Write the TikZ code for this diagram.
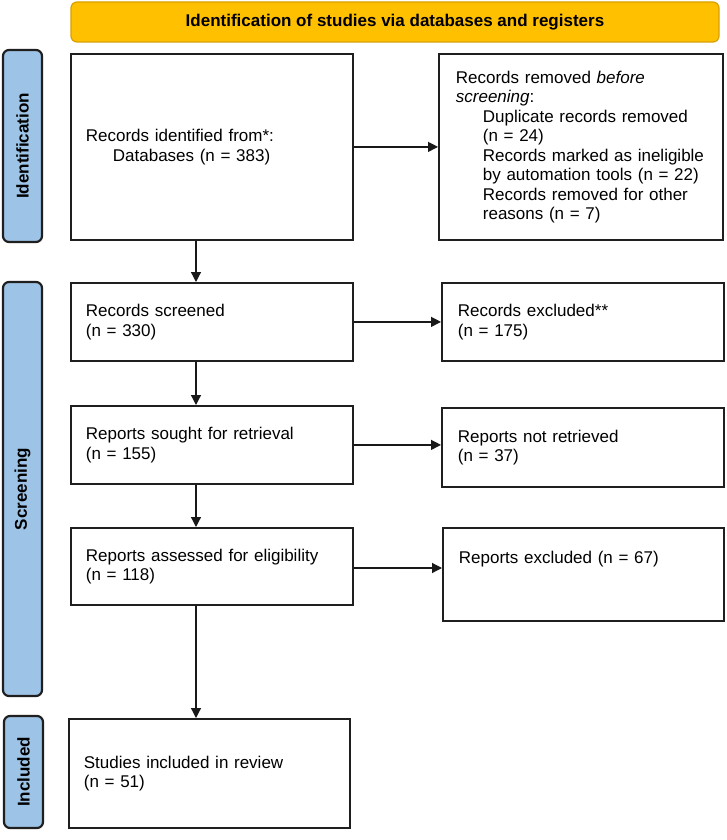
\documentclass[tikz,border=0pt]{standalone}
\usepackage{fontspec}
\setmainfont{Liberation Sans}
\usetikzlibrary{arrows.meta}
\definecolor{gold}{HTML}{FFC000}
\definecolor{goldline}{HTML}{D9A100}
\definecolor{phase}{HTML}{9DC3E6}
\begin{document}
\begin{tikzpicture}[x=1pt,y=-1pt,
  box/.style={draw=black!88, line width=1.8pt, rectangle, inner xsep=15pt, inner ysep=0pt,
    align=left, font=\fontsize{17}{19.5}\selectfont, anchor=north west},
  phasebox/.style={draw=black!88, fill=phase, line width=2.2pt, rounded corners=6pt,
    rotate=90, minimum height=39pt, inner sep=0pt, font=\bfseries\fontsize{17}{19.5}\selectfont},
  arr/.style={-{Triangle[length=10pt,width=10pt]}, line width=1.2pt, draw=black!90}]
\useasboundingbox (0,0) rectangle (726,840);
\fill[white] (0,0) rectangle (726,840);
% title
\node[draw=goldline, fill=gold, line width=1.2pt, rounded corners=6pt, minimum width=648pt,
  minimum height=40pt, inner sep=0pt, font=\bfseries\fontsize{17}{19.5}\selectfont] (title) at (395,22)
  {Identification of studies via databases and registers};
% phase labels
\node[phasebox, minimum width=192pt] (pid) at (22.5,146) {Identification};
\node[phasebox, minimum width=414pt] (pscr) at (22.5,489) {Screening};
\node[phasebox, minimum width=112pt] (pinc) at (23.5,772) {Included};
% left column
\node[box, minimum width=282pt, minimum height=186pt, text width=252pt] (id) at (70,53)
  {Records identified from*:\\\hspace*{27pt}Databases (n = 383)};
\node[box, minimum width=282pt, minimum height=78pt, text width=252pt] (scr) at (70,282)
  {Records screened\\(n = 330)};
\node[box, minimum width=282pt, minimum height=78pt, text width=252pt] (sought) at (70,405)
  {Reports sought for retrieval\\(n = 155)};
\node[box, minimum width=282pt, minimum height=77pt, text width=252pt] (assess) at (70,527)
  {Reports assessed for eligibility\\(n = 118)};
\node[box, minimum width=281pt, minimum height=109pt, text width=251pt] (incl) at (68,718)
  {Studies included in review\\(n = 51)};
% right column
\node[box, minimum width=284pt, minimum height=186pt, text width=250pt, inner xsep=17pt] (rem) at (438,53)
  {Records removed \emph{before}\\\emph{screening}:\\
   \hspace*{27pt}Duplicate records removed\\
   \hspace*{27pt}(n = 24)\\
   \hspace*{27pt}Records marked as ineligible\\
   \hspace*{27pt}by automation tools (n = 22)\\
   \hspace*{27pt}Records removed for other\\
   \hspace*{27pt}reasons (n = 7)};
\node[box, minimum width=282pt, minimum height=78pt, text width=250pt, inner xsep=16pt] (exc) at (441,282)
  {Records excluded**\\(n = 175)};
\node[box, minimum width=282pt, minimum height=79pt, text width=250pt, inner xsep=16pt] (notret) at (441,407)
  {Reports not retrieved\\(n = 37)};
\node[box, minimum width=281pt, minimum height=93pt, text width=249pt, inner xsep=16pt] (excl) at (442,527)
  {Reports excluded (n = 67)\\[14pt]\mbox{}};
% connectors
\coordinate (col) at (196,0);
\coordinate (r4) at (0,568);
\draw[arr] (id.east) -- (id.east -| rem.west);
\draw[arr] (scr.east) -- (scr.east -| exc.west);
\draw[arr] (sought.east) -- (sought.east -| notret.west);
\draw[arr] (r4 -| assess.east) -- (r4 -| excl.west);
\draw[arr] (col |- id.south) -- (col |- scr.north);
\draw[arr] (col |- scr.south) -- (col |- sought.north);
\draw[arr] (col |- sought.south) -- (col |- assess.north);
\draw[arr] (col |- assess.south) -- (col |- incl.north);
\end{tikzpicture}
\end{document}
